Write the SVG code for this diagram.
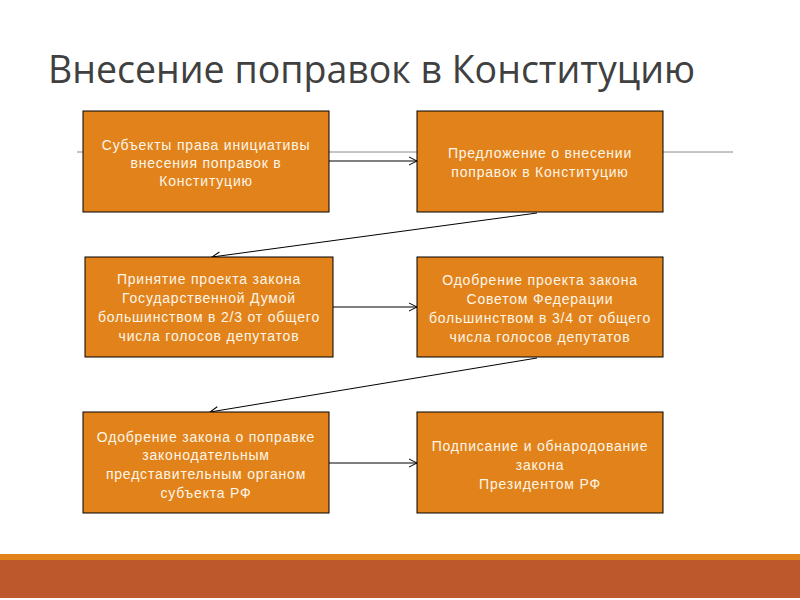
<svg xmlns="http://www.w3.org/2000/svg" width="800" height="600" viewBox="0 0 800 600">
<style>
.box{fill:#e2821a;stroke:#000;stroke-width:1}
.t{font-family:"Liberation Sans",Arial,sans-serif;font-size:14px;letter-spacing:0.8px;fill:#fdf6e8;text-anchor:middle;dominant-baseline:central}
.c{stroke:#000;stroke-width:1;fill:none;marker-end:url(#ah)}
</style>
<defs>
<marker id="ah" markerWidth="10" markerHeight="10" refX="9" refY="5" orient="auto" markerUnits="userSpaceOnUse">
<path d="M1,1 L9,5 L1,9" fill="none" stroke="#000" stroke-width="1"/>
</marker>
</defs>
<rect width="800" height="600" fill="#fff"/>
<text x="48" y="83" font-family="'Open Sans','Noto Sans',sans-serif" font-size="37.5" fill="#404040">Внесение поправок в Конституцию</text>
<line x1="77" y1="152" x2="733" y2="152" stroke="#8a8a8a" stroke-width="1"/>
<g id="connectors">
<line class="c" x1="329" y1="161" x2="417" y2="161"/>
<line class="c" x1="537" y1="213" x2="212" y2="257"/>
<line class="c" x1="333" y1="307" x2="417" y2="307"/>
<line class="c" x1="537" y1="358" x2="210" y2="412"/>
<line class="c" x1="329" y1="463" x2="417" y2="463"/>
</g>
<g id="n1"><rect class="box" x="83" y="111" width="246" height="101"/>
<text class="t" x="206" y="145">Субъекты права инициативы</text>
<text class="t" x="206" y="163">внесения поправок в</text>
<text class="t" x="206" y="181">Конституцию</text></g>
<g id="n2"><rect class="box" x="417" y="111" width="246" height="101"/>
<text class="t" x="540" y="153">Предложение о внесении</text>
<text class="t" x="540" y="172">поправок в Конституцию</text></g>
<g id="n3"><rect class="box" x="85" y="257" width="248" height="100"/>
<text class="t" x="209" y="279">Принятие проекта закона</text>
<text class="t" x="209" y="298">Государственной Думой</text>
<text class="t" x="209" y="317">большинством в 2/3 от общего</text>
<text class="t" x="209" y="336">числа голосов депутатов</text></g>
<g id="n4"><rect class="box" x="417" y="257" width="246" height="100"/>
<text class="t" x="540" y="280">Одобрение проекта закона</text>
<text class="t" x="540" y="299">Советом Федерации</text>
<text class="t" x="540" y="318">большинством в 3/4 от общего</text>
<text class="t" x="540" y="337">числа голосов депутатов</text></g>
<g id="n5"><rect class="box" x="83" y="412" width="246" height="101"/>
<text class="t" x="206" y="437">Одобрение закона о поправке</text>
<text class="t" x="206" y="455">законодательным</text>
<text class="t" x="206" y="474">представительным органом</text>
<text class="t" x="206" y="493">субъекта РФ</text></g>
<g id="n6"><rect class="box" x="417" y="412" width="246" height="101"/>
<text class="t" x="540" y="446">Подписание и обнародование</text>
<text class="t" x="540" y="465">закона</text>
<text class="t" x="540" y="484">Президентом РФ</text></g>
<rect x="0" y="554" width="800" height="6" fill="#e2821a"/>
<rect x="0" y="560" width="800" height="38" fill="#bd582c"/>
</svg>
